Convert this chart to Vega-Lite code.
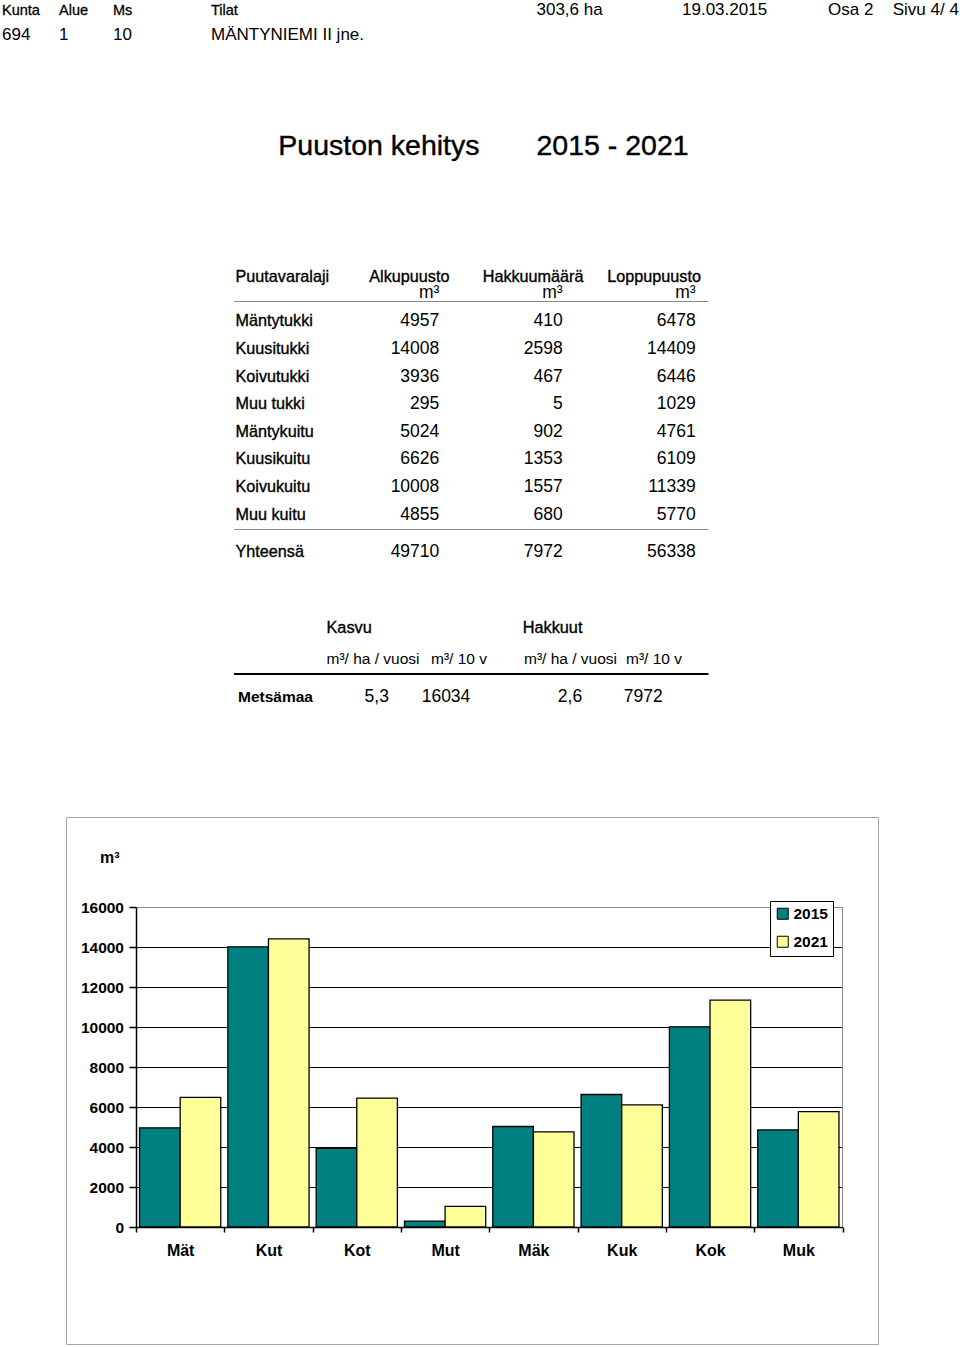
{
  "$schema": "https://vega.github.io/schema/vega-lite/v6.json",
  "width": 960,
  "height": 1347,
  "padding": 0,
  "autosize": {"type": "none"},
  "background": "white",
  "config": {"view": {"stroke": null}, "font": "Liberation Sans"},
  "datasets": {
    "sivu": [
      {"lohko": "otsake", "t": "Kunta", "sarake": 0, "rivi": 0},
      {"lohko": "otsake", "t": "Alue", "sarake": 1, "rivi": 0},
      {"lohko": "otsake", "t": "Ms", "sarake": 4, "rivi": 0},
      {"lohko": "otsake", "t": "Tilat", "sarake": 5, "rivi": 0},
      {"lohko": "tieto", "t": "694", "sarake": 0, "rivi": 1},
      {"lohko": "tieto", "t": "1", "sarake": 1, "rivi": 1},
      {"lohko": "tieto", "t": "10", "sarake": 4, "rivi": 1},
      {"lohko": "tieto", "t": "MÄNTYNIEMI II jne.", "sarake": 5, "rivi": 1},
      {"lohko": "tieto", "t": "303,6 ha", "sarake": 19, "rivi": 0},
      {"lohko": "tieto", "t": "19.03.2015", "sarake": 25, "rivi": 0},
      {"lohko": "tieto", "t": "Osa 2", "sarake": 28, "rivi": 0},
      {"lohko": "tieto", "t": "Sivu 4/ 4", "sarake": 31, "rivi": 0},
      {"lohko": "pääotsikko", "t": "Puuston kehitys", "sarake": 9, "rivi": 2},
      {"lohko": "pääotsikko", "t": "2015 - 2021", "sarake": 19, "rivi": 2},
      {"lohko": "sarakeotsikko", "t": "Puutavaralaji", "sarake": 7, "rivi": 3},
      {"lohko": "sarakeotsikko", "t": "Alkupuusto", "sarake": 11, "rivi": 3},
      {"lohko": "sarakeotsikko", "t": "Hakkuumäärä", "sarake": 16, "rivi": 3},
      {"lohko": "sarakeotsikko", "t": "Loppupuusto", "sarake": 22, "rivi": 3},
      {"lohko": "laji", "t": "Mäntytukki", "sarake": 7, "rivi": 6},
      {"lohko": "laji", "t": "Kuusitukki", "sarake": 7, "rivi": 7},
      {"lohko": "laji", "t": "Koivutukki", "sarake": 7, "rivi": 8},
      {"lohko": "laji", "t": "Muu tukki", "sarake": 7, "rivi": 9},
      {"lohko": "laji", "t": "Mäntykuitu", "sarake": 7, "rivi": 10},
      {"lohko": "laji", "t": "Kuusikuitu", "sarake": 7, "rivi": 11},
      {"lohko": "laji", "t": "Koivukuitu", "sarake": 7, "rivi": 12},
      {"lohko": "laji", "t": "Muu kuitu", "sarake": 7, "rivi": 13},
      {"lohko": "laji", "t": "Yhteensä", "sarake": 7, "rivi": 15},
      {"lohko": "luku", "t": "m³", "sarake": 14, "rivi": 4},
      {"lohko": "luku", "t": "m³", "sarake": 20, "rivi": 4},
      {"lohko": "luku", "t": "m³", "sarake": 26, "rivi": 4},
      {"lohko": "luku", "t": "4957", "sarake": 14, "rivi": 6},
      {"lohko": "luku", "t": "410", "sarake": 20, "rivi": 6},
      {"lohko": "luku", "t": "6478", "sarake": 26, "rivi": 6},
      {"lohko": "luku", "t": "14008", "sarake": 14, "rivi": 7},
      {"lohko": "luku", "t": "2598", "sarake": 20, "rivi": 7},
      {"lohko": "luku", "t": "14409", "sarake": 26, "rivi": 7},
      {"lohko": "luku", "t": "3936", "sarake": 14, "rivi": 8},
      {"lohko": "luku", "t": "467", "sarake": 20, "rivi": 8},
      {"lohko": "luku", "t": "6446", "sarake": 26, "rivi": 8},
      {"lohko": "luku", "t": "295", "sarake": 14, "rivi": 9},
      {"lohko": "luku", "t": "5", "sarake": 20, "rivi": 9},
      {"lohko": "luku", "t": "1029", "sarake": 26, "rivi": 9},
      {"lohko": "luku", "t": "5024", "sarake": 14, "rivi": 10},
      {"lohko": "luku", "t": "902", "sarake": 20, "rivi": 10},
      {"lohko": "luku", "t": "4761", "sarake": 26, "rivi": 10},
      {"lohko": "luku", "t": "6626", "sarake": 14, "rivi": 11},
      {"lohko": "luku", "t": "1353", "sarake": 20, "rivi": 11},
      {"lohko": "luku", "t": "6109", "sarake": 26, "rivi": 11},
      {"lohko": "luku", "t": "10008", "sarake": 14, "rivi": 12},
      {"lohko": "luku", "t": "1557", "sarake": 20, "rivi": 12},
      {"lohko": "luku", "t": "11339", "sarake": 26, "rivi": 12},
      {"lohko": "luku", "t": "4855", "sarake": 14, "rivi": 13},
      {"lohko": "luku", "t": "680", "sarake": 20, "rivi": 13},
      {"lohko": "luku", "t": "5770", "sarake": 26, "rivi": 13},
      {"lohko": "luku", "t": "49710", "sarake": 14, "rivi": 15},
      {"lohko": "luku", "t": "7972", "sarake": 20, "rivi": 15},
      {"lohko": "luku", "t": "56338", "sarake": 26, "rivi": 15},
      {"lohko": "väliotsikko", "t": "Kasvu", "sarake": 10, "rivi": 16},
      {"lohko": "väliotsikko", "t": "Hakkuut", "sarake": 17, "rivi": 16},
      {"lohko": "yksikkö", "t": "m³/ ha / vuosi", "sarake": 10, "rivi": 17},
      {"lohko": "yksikkö", "t": "m³/ 10 v", "sarake": 13, "rivi": 17},
      {"lohko": "yksikkö", "t": "m³/ ha / vuosi", "sarake": 18, "rivi": 17},
      {"lohko": "yksikkö", "t": "m³/ 10 v", "sarake": 23, "rivi": 17},
      {"lohko": "rivinimi", "t": "Metsämaa", "sarake": 8, "rivi": 19},
      {"lohko": "kasvuluku", "t": "5,3", "sarake": 12, "rivi": 19},
      {"lohko": "kasvuluku", "t": "16034", "sarake": 15, "rivi": 19},
      {"lohko": "kasvuluku", "t": "2,6", "sarake": 21, "rivi": 19},
      {"lohko": "kasvuluku", "t": "7972", "sarake": 24, "rivi": 19},
      {"lohko": "akseliyksikkö", "t": "m³", "sarake": 3, "rivi": 21},
      {"lohko": "ohutviiva", "sarake": 6, "sarake2": 27, "rivi": 5},
      {"lohko": "ohutviiva", "sarake": 6, "sarake2": 27, "rivi": 14},
      {"lohko": "paksuviiva", "sarake": 6, "sarake2": 27, "rivi": 18},
      {"lohko": "kehys", "sarake": 29, "rivi": 22, "rivi2": 23},
      {"lohko": "laatikko", "sarake": 2, "sarake2": 30, "rivi": 20, "rivi2": 24}
    ],
    "puusto": [
      {"laji": "Mät", "vuosi": "2015", "m3": 4957},
      {"laji": "Mät", "vuosi": "2021", "m3": 6478},
      {"laji": "Kut", "vuosi": "2015", "m3": 14008},
      {"laji": "Kut", "vuosi": "2021", "m3": 14409},
      {"laji": "Kot", "vuosi": "2015", "m3": 3936},
      {"laji": "Kot", "vuosi": "2021", "m3": 6446},
      {"laji": "Mut", "vuosi": "2015", "m3": 295},
      {"laji": "Mut", "vuosi": "2021", "m3": 1029},
      {"laji": "Mäk", "vuosi": "2015", "m3": 5024},
      {"laji": "Mäk", "vuosi": "2021", "m3": 4761},
      {"laji": "Kuk", "vuosi": "2015", "m3": 6626},
      {"laji": "Kuk", "vuosi": "2021", "m3": 6109},
      {"laji": "Kok", "vuosi": "2015", "m3": 10008},
      {"laji": "Kok", "vuosi": "2021", "m3": 11339},
      {"laji": "Muk", "vuosi": "2015", "m3": 4855},
      {"laji": "Muk", "vuosi": "2021", "m3": 5770}
    ]
  },
  "layer": [
    {
      "data": {"name": "sivu"},
      "encoding": {
        "x": {"field": "sarake", "type": "quantitative", "axis": null,
          "scale": {"domain": [0,1,2,3,4,5,6,7,8,9,10,11,12,13,14,15,16,17,18,19,20,21,22,23,24,25,26,27,28,29,30,31],
            "range": [2,59,66.5,100,113,211,234,235.5,238,278.3,326.5,369.3,376.7,431,439.3,446,482.7,522.7,524,536.5,562.7,570,607.3,626,643.3,682,695.7,708.5,828,842.5,878.5,892.7],
            "nice": false, "zero": false}},
        "y": {"field": "rivi", "type": "quantitative", "axis": null,
          "scale": {"domain": [0,1,2,3,4,5,6,7,8,9,10,11,12,13,14,15,16,17,18,19,20,21,22,23,24],
            "range": [14.5,40.3,154.7,281.7,298.3,301.5,326.4,354,381.6,409.2,436.8,464.4,492,519.6,529.5,556.7,633.3,664.3,674,702.3,817.5,863.3,907,1227,1344.5],
            "nice": false, "zero": false}}
      },
      "layer": [
        {"transform": [{"filter": "datum.lohko === 'laatikko'"}],
         "mark": {"type": "rect", "fillOpacity": 0, "stroke": "#a6a6a6", "strokeWidth": 1},
         "encoding": {"x2": {"field": "sarake2"}, "y2": {"field": "rivi2"}}},
        {"transform": [{"filter": "datum.lohko === 'ohutviiva'"}],
         "mark": {"type": "rule", "stroke": "#8c8c8c", "strokeWidth": 1},
         "encoding": {"x2": {"field": "sarake2"}}},
        {"transform": [{"filter": "datum.lohko === 'paksuviiva'"}],
         "mark": {"type": "rule", "stroke": "black", "strokeWidth": 2},
         "encoding": {"x2": {"field": "sarake2"}}},
        {"transform": [{"filter": "datum.lohko === 'kehys'"}],
         "mark": {"type": "rule", "stroke": "#8c8c8c", "strokeWidth": 1},
         "encoding": {"y2": {"field": "rivi2"}}},
        {"transform": [{"filter": "datum.lohko === 'otsake'"}],
         "mark": {"type": "text", "align": "left", "baseline": "alphabetic", "font": "Liberation Sans", "fontSize": 14.5, "fill": "black", "stroke": "black", "strokeWidth": 0.3},
         "encoding": {"text": {"field": "t"}}},
        {"transform": [{"filter": "datum.lohko === 'tieto'"}],
         "mark": {"type": "text", "align": "left", "baseline": "alphabetic", "font": "Liberation Sans", "fontSize": 17, "fill": "black"},
         "encoding": {"text": {"field": "t"}}},
        {"transform": [{"filter": "datum.lohko === 'pääotsikko'"}],
         "mark": {"type": "text", "align": "left", "baseline": "alphabetic", "font": "Liberation Sans", "fontSize": 28.5, "fill": "black", "stroke": "black", "strokeWidth": 0.4},
         "encoding": {"text": {"field": "t"}}},
        {"transform": [{"filter": "datum.lohko === 'sarakeotsikko' || datum.lohko === 'laji'"}],
         "mark": {"type": "text", "align": "left", "baseline": "alphabetic", "font": "Liberation Sans", "fontSize": 16.2, "fill": "black", "stroke": "black", "strokeWidth": 0.35},
         "encoding": {"text": {"field": "t"}}},
        {"transform": [{"filter": "datum.lohko === 'väliotsikko'"}],
         "mark": {"type": "text", "align": "left", "baseline": "alphabetic", "font": "Liberation Sans", "fontSize": 16.3, "fill": "black", "stroke": "black", "strokeWidth": 0.35},
         "encoding": {"text": {"field": "t"}}},
        {"transform": [{"filter": "datum.lohko === 'luku'"}],
         "mark": {"type": "text", "align": "right", "baseline": "alphabetic", "font": "Liberation Sans", "fontSize": 17.5, "fill": "black"},
         "encoding": {"text": {"field": "t"}}},
        {"transform": [{"filter": "datum.lohko === 'yksikkö'"}],
         "mark": {"type": "text", "align": "left", "baseline": "alphabetic", "font": "Liberation Sans", "fontSize": 15.5, "fill": "black"},
         "encoding": {"text": {"field": "t"}}},
        {"transform": [{"filter": "datum.lohko === 'rivinimi'"}],
         "mark": {"type": "text", "align": "left", "baseline": "alphabetic", "font": "Liberation Sans", "fontWeight": "bold", "fontSize": 15.5, "fill": "black"},
         "encoding": {"text": {"field": "t"}}},
        {"transform": [{"filter": "datum.lohko === 'kasvuluku'"}],
         "mark": {"type": "text", "align": "center", "baseline": "alphabetic", "font": "Liberation Sans", "fontSize": 17.5, "fill": "black"},
         "encoding": {"text": {"field": "t"}}},
        {"transform": [{"filter": "datum.lohko === 'akseliyksikkö'"}],
         "mark": {"type": "text", "align": "left", "baseline": "alphabetic", "font": "Liberation Sans", "fontWeight": "bold", "fontSize": 16, "fill": "black"},
         "encoding": {"text": {"field": "t"}}}
      ]
    },
    {
      "data": {"name": "puusto"},
      "mark": {"type": "bar", "stroke": "black", "strokeWidth": 1.3},
      "encoding": {
        "x": {"field": "laji", "type": "nominal",
          "scale": {"type": "band", "domain": ["Mät","Kut","Kot","Mut","Mäk","Kuk","Kok","Muk"], "range": [136, 842.5], "paddingInner": 0, "paddingOuter": 0},
          "axis": {"orient": "bottom", "offset": -120, "title": null, "tickBand": "extent", "tickSize": 5, "tickWidth": 1.5, "tickColor": "black",
            "domainColor": "black", "domainWidth": 1.5, "labelAngle": 0, "labelPadding": 10, "labelFont": "Liberation Sans", "labelFontWeight": "bold",
            "labelFontSize": 16, "labelColor": "black", "grid": false}},
        "xOffset": {"field": "vuosi", "type": "nominal", "scale": {"domain": ["2015","2021"], "paddingOuter": 0.087, "paddingInner": 0}},
        "y": {"field": "m3", "type": "quantitative",
          "scale": {"domain": [0, 16000], "range": [1227, 907], "nice": false},
          "axis": {"orient": "left", "offset": -136, "title": null, "values": [0,2000,4000,6000,8000,10000,12000,14000,16000],
            "format": "d", "tickSize": 7, "tickWidth": 1.5, "tickColor": "black", "domainColor": "black", "domainWidth": 1.5,
            "labelPadding": 5.5, "labelFont": "Liberation Sans", "labelFontWeight": "bold", "labelFontSize": 15.5, "labelColor": "black",
            "grid": true, "gridOpacity": 1, "gridWidth": 1,
            "gridColor": {"condition": {"test": "datum.value === 16000", "value": "#8c8c8c"}, "value": "black"}}},
        "color": {"field": "vuosi", "type": "nominal",
          "scale": {"domain": ["2015","2021"], "range": ["#008080", "#FFFF99"]},
          "legend": {"orient": "none", "legendX": 770, "legendY": 901, "title": null, "symbolType": "square", "symbolSize": 121,
            "symbolStrokeColor": "black", "symbolStrokeWidth": 1, "symbolOpacity": 1, "labelFont": "Liberation Sans", "labelFontWeight": "bold",
            "labelFontSize": 15.5, "labelColor": "black", "labelOffset": 3, "padding": 5, "rowPadding": 11,
            "strokeColor": "black", "fillColor": "white"}}
      }
    }
  ],
  "resolve": {"scale": {"x": "independent", "y": "independent"}, "axis": {"x": "independent", "y": "independent"}}
}
